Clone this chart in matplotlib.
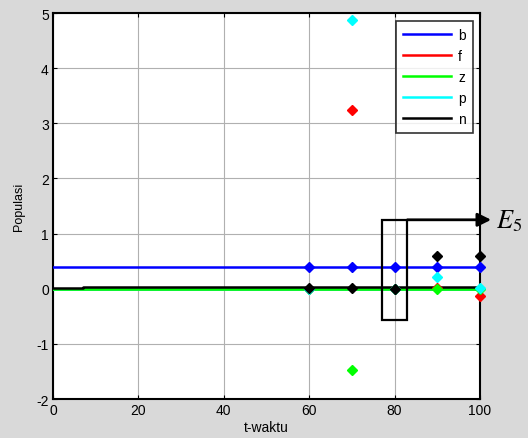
import matplotlib
matplotlib.use("Agg")
import matplotlib.pyplot as plt
from matplotlib.patches import Rectangle

plt.rcParams['font.family'] = ['Liberation Sans', 'DejaVu Sans']
plt.rcParams['mathtext.fontset'] = 'stix'
plt.rcParams['axes.unicode_minus'] = False

# continuous solution lines
t_line = [0, 7, 7, 100]
b_line = [0.40, 0.40, 0.40, 0.40]
f_line = [0.00, 0.00, 0.00, 0.00]
z_line = [0.00, 0.00, 0.00, 0.00]
p_line = [0.00, 0.00, 0.00, 0.00]
n_line = [0.02, 0.02, 0.04, 0.04]

# point estimates
t_pts = [60, 70, 80, 90, 100]
b_pts = [0.40, 0.40, 0.40, 0.40, 0.40]
f_pts = [0.00, 3.25, 0.00, 0.02, -0.13]
z_pts = [0.00, -1.48, 0.00, 0.00, 0.00]
p_pts = [-0.01, 4.88, 0.00, 0.22, 0.02]
n_pts = [0.02, 0.02, 0.00, 0.60, 0.60]

labels = ['b', 'f', 'z', 'p', 'n']
colors = ['#0000ff', '#ff0000', '#00ff00', '#00ffff', '#000000']
lines = [b_line, f_line, z_line, p_line, n_line]
pts = [b_pts, f_pts, z_pts, p_pts, n_pts]

fig = plt.figure(figsize=(5.28, 4.39), dpi=100, facecolor='#d9d9d9')
ax = fig.add_axes([0.1004, 0.0888, 0.8087, 0.8793])
ax.set_facecolor('white')

zorders = [3, 3, 4, 3, 5]
handles = []
for lab, c, ln, zo in zip(labels, colors, lines, zorders):
    h, = ax.plot(t_line, ln, color=c, lw=1.8, label=lab, zorder=zo)
    handles.append(h)
for c, pv in zip(colors, pts):
    ax.plot(t_pts, pv, linestyle='none', marker='D', markersize=5,
            color=c, markeredgecolor=c, zorder=6, clip_on=False)

ax.set_xlim(0, 100)
ax.set_ylim(-2, 5)
ax.set_xticks([0, 20, 40, 60, 80, 100])
ax.set_yticks([-2, -1, 0, 1, 2, 3, 4, 5])
ax.grid(True, color='#b0b0b0', lw=0.8)
ax.tick_params(direction='in', top=True, right=True, labelsize=10, length=3,
               pad=3)
for s in ax.spines.values():
    s.set_linewidth(1.5)
ax.set_xlabel('t-waktu', fontsize=10, labelpad=2)
ax.set_ylabel('Populasi', fontsize=9, labelpad=8)

leg = ax.legend(handles=handles, loc='upper right', bbox_to_anchor=(0.993, 0.99),
                frameon=True, fancybox=False, edgecolor='black', fontsize=10,
                handlelength=3.5, labelspacing=0.5, borderpad=0.5,
                handletextpad=0.5, borderaxespad=0.3)
leg.get_frame().set_linewidth(1.2)

rect = Rectangle((77, -0.57), 6, 1.82, fill=False, edgecolor='black', lw=1.6,
                 zorder=7)
ax.add_patch(rect)
ax.annotate('', xy=(102.6, 1.25), xytext=(83, 1.25),
            arrowprops=dict(arrowstyle='-|>', color='black', lw=2,
                            mutation_scale=20, shrinkA=0, shrinkB=0),
            annotation_clip=False, zorder=8)
ax.text(103.8, 1.25, '$E_5$', fontsize=19, va='center', ha='left',
        clip_on=False)

fig.savefig('out.png', dpi=100, facecolor=fig.get_facecolor())
